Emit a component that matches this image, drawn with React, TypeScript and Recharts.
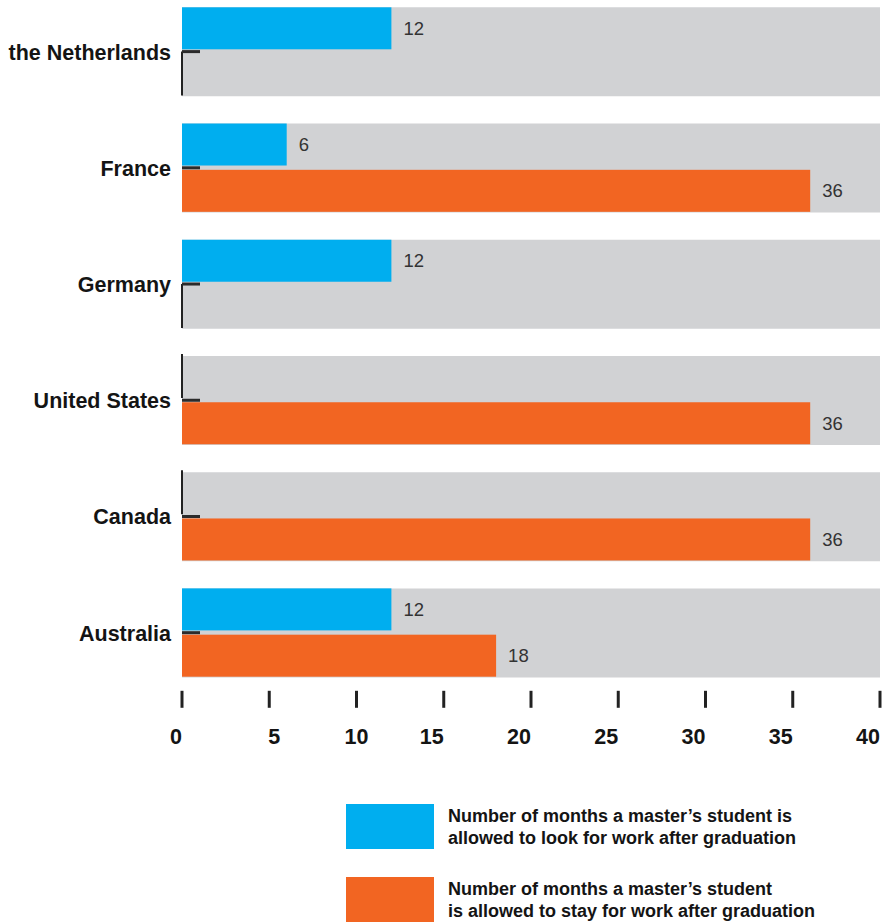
import React from 'react';
import { BarChart, Bar, XAxis, YAxis, LabelList } from 'recharts';

const countries = ['the Netherlands', 'France', 'Germany', 'United States', 'Canada', 'Australia'];
const lookForWork = [12, 6, 12, 0, 0, 12];
const stayForWork = [0, 36, 0, 36, 36, 18];
const xTicks = [0, 5, 10, 15, 20, 25, 30, 35, 40];
const axisMax = 40;

const legendLook = ['Number of months a master’s student is', 'allowed to look for work after graduation'];
const legendStay = ['Number of months a master’s student', 'is allowed to stay for work after graduation'];

const BLUE = '#00aeef';
const ORANGE = '#f26522';
const GRAY = '#d1d2d4';
const INK = '#141414';
const FONT = '"Liberation Sans", Arial, Helvetica, sans-serif';

// the original tick labels are not all aligned the same way
const tickAnchor: Record<number, 'start' | 'middle' | 'end'> = { 5: 'start', 10: 'middle' };

const data = countries.map((country, i) => ({
  country,
  look: lookForWork[i],
  stay: stayForWork[i],
  full: axisMax,
}));

// zero-length bars show up as a thin dark line on the baseline
const BarShape = (props: any) => {
  const { x, y, width, height, fill } = props;
  if (!width || width < 0.5) {
    return <line x1={x} x2={x} y1={y - 2} y2={y + height} stroke="#222" strokeWidth={2} />;
  }
  return <rect x={x} y={y} width={width} height={height} fill={fill} />;
};

const CountryTick = (props: any) => {
  const { x, y, payload } = props;
  return (
    <g>
      <text x={x} y={y} dy={8} textAnchor="end" fill={INK} fontSize={21.5} fontWeight="bold" fontFamily={FONT}>
        {payload.value}
      </text>
      <line x1={x + 11} x2={x + 29} y1={y} y2={y} stroke="#2b2b2b" strokeWidth={3} />
    </g>
  );
};

const ValueTick = (props: any) => {
  const { x, y, payload } = props;
  const anchor = tickAnchor[payload.value] || 'end';
  return (
    <text
      x={anchor === 'start' ? x - 1 : x}
      y={y}
      dy={36}
      textAnchor={anchor}
      fill={INK}
      fontSize={21.5}
      fontWeight="bold"
      fontFamily={FONT}
    >
      {payload.value}
    </text>
  );
};

const hideZero = (v: any) => (v ? v : '');

const LegendItem = ({ color, lines, top }: { color: string; lines: string[]; top: number }) => (
  <div style={{ position: 'absolute', left: 346, top, display: 'flex' }}>
    <div style={{ width: 88, height: 45, background: color }} />
    <div
      style={{
        marginLeft: 14,
        marginTop: 2,
        fontFamily: FONT,
        fontWeight: 'bold',
        fontSize: 18,
        lineHeight: '21.5px',
        color: INK,
        whiteSpace: 'nowrap',
      }}
    >
      {lines.map((l) => (
        <div key={l}>{l}</div>
      ))}
    </div>
  </div>
);

export default function App() {
  return (
    <div style={{ position: 'absolute', left: 0, top: 0, width: 887, height: 923, background: '#fff', overflow: 'hidden' }}>
      <BarChart
        width={887}
        height={923}
        data={data}
        layout="vertical"
        margin={{ top: -6.5, right: 7, bottom: 172.2, left: 8 }}
        barCategoryGap={13.8}
        barGap={4.3}
      >
        <XAxis
          type="number"
          domain={[0, axisMax]}
          ticks={xTicks}
          axisLine={false}
          tickLine={{ stroke: '#222', strokeWidth: 3 }}
          tickSize={17}
          tickMargin={0}
          height={60}
          tick={<ValueTick />}
          interval={0}
        />
        <YAxis
          type="category"
          dataKey="country"
          width={174}
          axisLine={false}
          tickLine={false}
          tickSize={0}
          tickMargin={11}
          tick={<CountryTick />}
          interval={0}
        />
        <YAxis yAxisId="bg" type="category" dataKey="country" hide />
        <Bar yAxisId="bg" dataKey="full" fill={GRAY} isAnimationActive={false} />
        <Bar dataKey="look" fill={BLUE} shape={<BarShape />} isAnimationActive={false}>
          <LabelList dataKey="look" position="right" offset={12} fill="#333" fontSize={18.5} fontFamily={FONT} formatter={hideZero} />
        </Bar>
        <Bar dataKey="stay" fill={ORANGE} shape={<BarShape />} isAnimationActive={false}>
          <LabelList dataKey="stay" position="right" offset={12} fill="#333" fontSize={18.5} fontFamily={FONT} formatter={hideZero} />
        </Bar>
      </BarChart>
      <LegendItem color={BLUE} lines={legendLook} top={804} />
      <LegendItem color={ORANGE} lines={legendStay} top={877} />
    </div>
  );
}
